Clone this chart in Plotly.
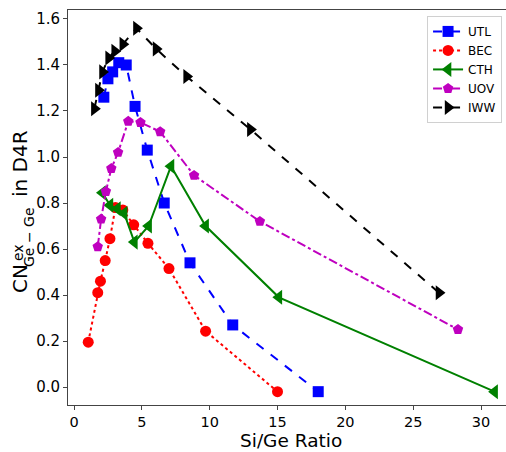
import plotly.graph_objects as go

# ---- data ----
utl_x = [2.2, 2.5, 2.85, 3.3, 3.85, 4.5, 5.4, 6.65, 8.55, 11.7, 18.0]
utl_y = [1.26, 1.34, 1.37, 1.41, 1.40, 1.22, 1.03, 0.80, 0.54, 0.27, -0.02]

bec_x = [1.05, 1.75, 1.95, 2.3, 2.65, 3.05, 3.6, 4.4, 5.45, 7.0, 9.7, 15.0]
bec_y = [0.195, 0.41, 0.46, 0.55, 0.645, 0.78, 0.77, 0.705, 0.625, 0.515, 0.243, -0.02]

cth_x = [2.1, 2.65, 3.2, 3.7, 4.45, 5.5, 7.15, 9.7, 15.1, 31.0]
cth_y = [0.845, 0.79, 0.775, 0.755, 0.63, 0.70, 0.96, 0.70, 0.39, -0.02]

uov_x = [1.75, 2.0, 2.35, 2.75, 3.25, 4.0, 4.9, 6.35, 8.85, 13.7, 28.3]
uov_y = [0.61, 0.73, 0.85, 0.95, 1.02, 1.155, 1.15, 1.11, 0.92, 0.72, 0.25]

iww_x = [1.5, 1.8, 2.1, 2.55, 3.0, 3.6, 4.6, 6.05, 8.3, 13.0, 26.9]
iww_y = [1.21, 1.29, 1.37, 1.43, 1.46, 1.49, 1.56, 1.47, 1.35, 1.12, 0.41]

x_ticks = [0, 5, 10, 15, 20, 25, 30]
y_ticks = [0.0, 0.2, 0.4, 0.6, 0.8, 1.0, 1.2, 1.4, 1.6]

FONT = "DejaVu Sans"

series = [
    ("UTL", utl_x, utl_y, "#0000ff", "dash", "square", 11),
    ("BEC", bec_x, bec_y, "#ff0000", "dot", "circle", 11),
    ("CTH", cth_x, cth_y, "#008000", "solid", "triangle-left", 13),
    ("UOV", uov_x, uov_y, "#bf00bf", "dashdot", "pentagon", 11),
    ("IWW", iww_x, iww_y, "#000000", "dash", "triangle-right", 13),
]

fig = go.Figure()
for name, xs, ys, col, dash, sym, sz in series:
    fig.add_trace(go.Scatter(
        x=xs, y=ys, name=name, mode="lines+markers",
        line=dict(color=col, width=2, dash=dash),
        marker=dict(color=col, symbol=sym, size=sz, line=dict(width=0)),
    ))

TOP, BOT, LEFT = 10, 47, 68
PH = 452 - TOP - BOT
PW = 506 - LEFT

fig.update_layout(
    width=506, height=452,
    margin=dict(l=LEFT, r=0, t=TOP, b=BOT),
    paper_bgcolor="white", plot_bgcolor="white",
    font=dict(family=FONT, color="black", size=15),
    showlegend=True,
    legend=dict(
        x=0.991, y=0.985, xanchor="right", yanchor="top",
        bgcolor="rgba(255,255,255,0.8)", bordercolor="#d0d0d0", borderwidth=1,
        font=dict(family=FONT, size=12), itemwidth=30, tracegroupgap=0,
    ),
    xaxis=dict(
        range=[-0.442, 31.84], tickvals=x_ticks, ticktext=[str(v) for v in x_ticks],
        showgrid=False, zeroline=False, showline=True, mirror=True,
        linecolor="#444", linewidth=1, ticks="outside", ticklen=4,
        tickcolor="#444", tickfont=dict(size=14.5),
    ),
    yaxis=dict(
        range=[-0.078, 1.639], tickvals=y_ticks,
        ticktext=[f"{v:.1f}" for v in y_ticks],
        showgrid=False, zeroline=False, showline=True, mirror=False,
        linecolor="#444", linewidth=1, ticks="outside", ticklen=4,
        tickcolor="#444", tickfont=dict(size=15),
    ),
)


def px_x(p):
    return (p - LEFT) / PW


def px_y(p):
    return (452 - BOT - p) / PH


# x-axis title
fig.add_annotation(
    text="Si/Ge Ratio", xref="paper", yref="paper", x=px_x(291), y=px_y(452),
    xanchor="center", yanchor="bottom", showarrow=False, borderpad=0,
    font=dict(family=FONT, size=18.5, color="black"),
)

# y-axis title built from pieces (stacked super/subscript)
title_parts = [
    ("CN", 20, 20, 279),
    ("ex", 14, 18, 253),
    ("Ge − Ge", 14, 29, 237),
    ("in D4R", 20, 20, 164),
]
for txt, size, cx, cy in title_parts:
    fig.add_annotation(
        text=txt, xref="paper", yref="paper", x=px_x(cx), y=px_y(cy),
        xanchor="center", yanchor="middle", textangle=-90, showarrow=False,
        font=dict(family=FONT, size=size, color="black"),
    )

fig.write_html("out.html")
